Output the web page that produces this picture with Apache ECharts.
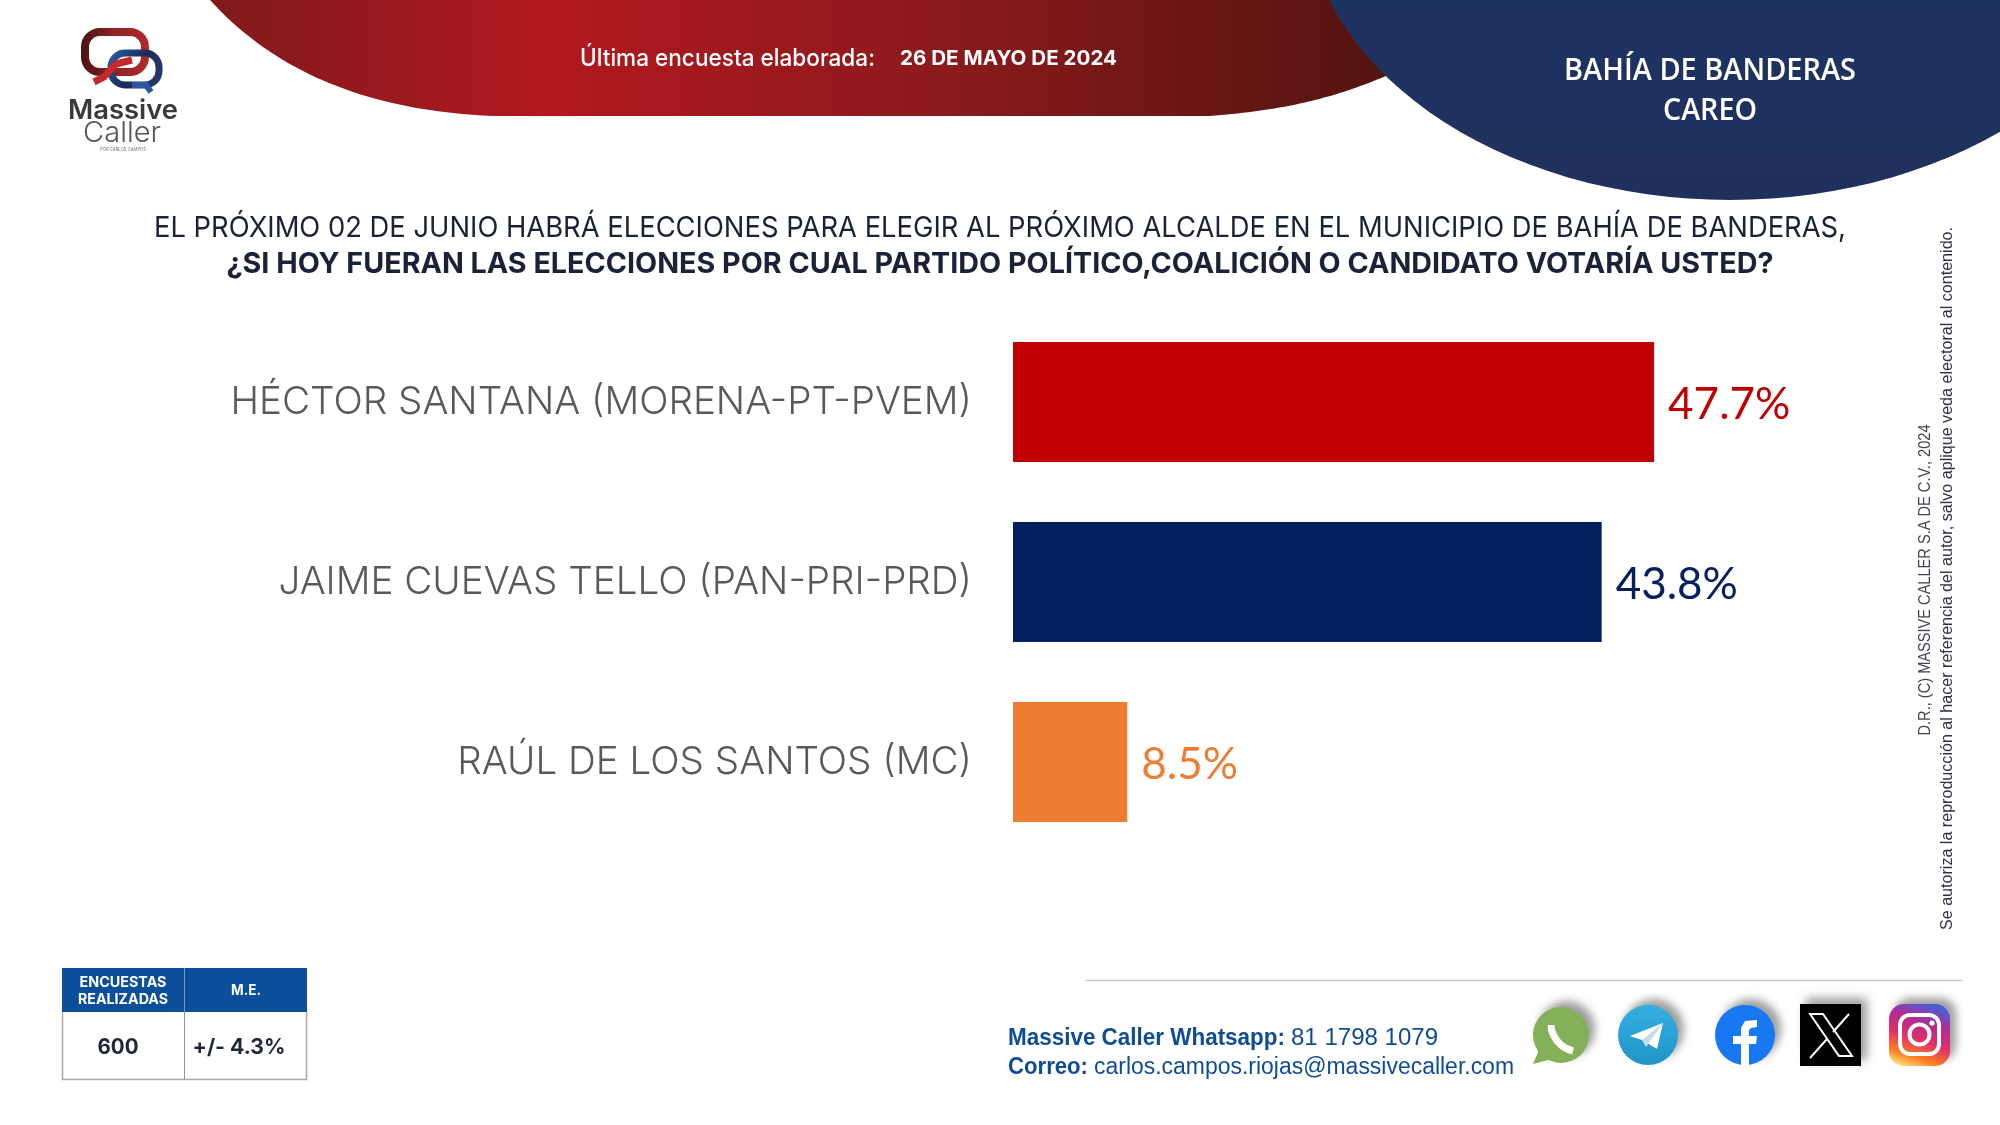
<!DOCTYPE html>
<html><head><meta charset="utf-8">
<style>html,body{margin:0;padding:0;background:#fff}#c{width:2000px;height:1125px}</style>
<script src="https://cdn.jsdelivr.net/npm/echarts@6/dist/echarts.min.js"></script>
</head><body><div id="c"></div>
<script>
const categories = ['HÉCTOR SANTANA (MORENA-PT-PVEM)', 'JAIME CUEVAS TELLO (PAN-PRI-PRD)', 'RAÚL DE LOS SANTOS (MC)'];
const values = [47.7, 43.8, 8.5];
const barColors = ['#C00000', '#002060', '#ED7D31'];
const titleLine1 = 'EL PRÓXIMO 02 DE JUNIO HABRÁ ELECCIONES PARA ELEGIR AL PRÓXIMO ALCALDE EN EL MUNICIPIO DE BAHÍA DE BANDERAS,';
const titleLine2 = '¿SI HOY FUERAN LAS ELECCIONES POR CUAL PARTIDO POLÍTICO,COALICIÓN O CANDIDATO VOTARÍA USTED?';

const chart = echarts.init(document.getElementById('c'), null, {renderer:'canvas', width:2000, height:1125});
const mctx = document.createElement('canvas').getContext('2d');
function T(text, x, y, size, o) {
  o = o || {};
  const font = (o.weight||400)+' '+size+'px "'+(o.family||'Inter')+'"';
  mctx.font = font;
  const sx = o.w ? o.w / mctx.measureText(text).width : 1;
  return {type:'text', x, y:y+1.5, scaleX:sx, rotation:o.rot||0, z:o.z||20,
    style:{text, fill:o.color||'#000', font, textAlign:o.align||'left', textVerticalAlign:'middle'}};
}
function bez(p0,p1,p2,p3){const r=[];for(let i=0;i<=40;i++){const t=i/40,u=1-t;
  r.push([u*u*u*p0[0]+3*u*u*t*p1[0]+3*u*t*t*p2[0]+t*t*t*p3[0],u*u*u*p0[1]+3*u*u*t*p1[1]+3*u*t*t*p2[1]+t*t*t*p3[1]]);}return r;}
const redPts = [].concat(
  bez([210,0],[275,72],[370,112],[497,116]),
  bez([1210,116],[1285,110],[1345,98],[1420,60]),
  [[1420,0]]);
const shadow = {shadowBlur:9, shadowColor:'rgba(0,0,0,0.38)', shadowOffsetX:6, shadowOffsetY:-6};
const grad = (x,y,x2,y2,stops)=>({type:'linear',x,y,x2,y2,colorStops:stops.map((c,i)=>({offset:c[0],color:c[1]}))});
const gfx = [
  {type:'polygon', z:1, shape:{points:redPts}, style:{fill:grad(0,0,1,0,[[0,'#7f1a1c'],[0.28,'#b2181f'],[0.6,'#8c1a1c'],[1,'#4f140e']])}},
  {type:'circle', z:2, x:1730, y:-100, scaleX:425/300, shape:{cx:0,cy:0,r:300}, style:{fill:grad(0,0,0,1,[[0.3,'#1b3768'],[1,'#20305c']])}},
  // logo
  {type:'rect', z:3, shape:{x:85,y:32,width:60,height:40,r:15}, style:{fill:'none', lineWidth:8, stroke:grad(0,0,1,0,[[0,'#4a1512'],[0.5,'#8f2323'],[1,'#b22a2a']])}},
  {type:'rect', z:4, shape:{x:111,y:53,width:48,height:32,r:14}, style:{fill:'none', lineWidth:7, stroke:grad(0,0,1,1,[[0,'#2d62ad'],[0.5,'#1d2c58'],[1,'#273a73']])}},
  {type:'polyline', z:5, shape:{points:[[94,82],[104,77],[116,64],[132,60]]}, style:{fill:'none', lineWidth:7, stroke:'#c5292c'}},
  {type:'polyline', z:5, shape:{points:[[132,85],[146,85],[151,92]]}, style:{fill:'none', lineWidth:6, stroke:'#2a56a4'}},
  T('Massive', 68, 109, 27, {weight:600, color:'#3a3a3a', w:110}),
  T('Caller', 83, 132, 28, {weight:300, color:'#555', w:78}),
  T('POR CARLOS CAMPOS', 100, 148, 5, {color:'#777', w:46}),
  // header text
  T('Última encuesta elaborada:', 580, 57, 24, {weight:500, color:'#fff', w:295}),
  T('26 DE MAYO DE 2024', 900, 57, 20, {weight:700, color:'#fff', w:217}),
  T('BAHÍA DE BANDERAS', 1710, 70, 30, {family:'Open Sans', weight:600, color:'#fff', align:'center', w:292}),
  T('CAREO', 1710, 110, 30, {family:'Open Sans', weight:600, color:'#fff', align:'center', w:94}),
  // title
  T(titleLine1, 1000, 227, 29, {weight:400, color:'#1a2238', align:'center', w:1692}),
  T(titleLine2, 1000, 263, 29, {weight:700, color:'#1a2238', align:'center', w:1547}),
  // rotated notes
  T('D.R., (C) MASSIVE CALLER S.A DE C.V., 2024', 1926, 578.5, 16, {family:'Liberation Sans', color:'#3f4454', align:'center', rot:Math.PI/2, w:311}),
  T('Se autoriza la reproducción al hacer referencia del autor, salvo aplique veda electoral al contenido.', 1948, 577, 16, {family:'Liberation Sans', color:'#2d3245', align:'center', rot:Math.PI/2, w:703}),
  // table
  {type:'rect', z:3, shape:{x:62,y:968,width:245,height:44}, style:{fill:'#0B4F9A'}},
  {type:'polyline', z:3, shape:{points:[[62.5,1012],[62.5,1079.5],[306.5,1079.5],[306.5,1012]]}, style:{fill:'none', stroke:'#a8a8a8', lineWidth:1.5}},
  {type:'line', z:4, shape:{x1:184.5,y1:968,x2:184.5,y2:1079}, style:{stroke:'#8a94a3', lineWidth:1}},
  T('ENCUESTAS', 123, 981, 14, {weight:700, color:'#fff', align:'center', w:87}),
  T('REALIZADAS', 123, 998, 14, {weight:700, color:'#fff', align:'center', w:90}),
  T('M.E.', 246, 989, 14, {weight:700, color:'#fff', align:'center', w:30}),
  T('600', 118, 1046, 21, {weight:700, color:'#1f2738', align:'center', w:41}),
  T('+/- 4.3%', 239, 1046, 21, {weight:700, color:'#1f2738', align:'center', w:93}),
  // footer
  {type:'line', z:3, shape:{x1:1086,y1:980.5,x2:1962,y2:980.5}, style:{stroke:'#c8c8c8', lineWidth:1.3}},
  T('Massive Caller Whatsapp:', 1008, 1037, 23, {family:'Liberation Sans', weight:700, color:'#0F4C96', w:277}),
  T('81 1798 1079', 1291, 1037, 23, {family:'Liberation Sans', color:'#0F4C96', w:147}),
  T('Correo:', 1008, 1066, 23, {family:'Liberation Sans', weight:700, color:'#0F4C96', w:80}),
  T('carlos.campos.riojas@massivecaller.com', 1094, 1066, 23, {family:'Liberation Sans', color:'#0F4C96', w:420}),
  // whatsapp
  {type:'circle', z:5, shape:{cx:1561,cy:1035,r:28}, style:Object.assign({fill:'#84B05A'},shadow)},
  {type:'polygon', z:6, shape:{points:[[1533,1064],[1541,1045],[1552,1059]]}, style:{fill:'#84B05A'}},
  {type:'polyline', z:7, shape:{smooth:0.5, points:[[1551,1025],[1553,1034],[1561,1045],[1573,1051]]}, style:{fill:'none', stroke:'#fff', lineWidth:7}},
  // telegram
  {type:'circle', z:5, shape:{cx:1648,cy:1035,r:30}, style:Object.assign({fill:grad(0,0,0,1,[[0,'#37aee2'],[1,'#1e96c8']])},shadow)},
  {type:'polygon', z:6, shape:{points:[[1630,1036],[1663,1023],[1657,1049],[1642,1040]]}, style:{fill:'#fff'}},
  {type:'polygon', z:7, shape:{points:[[1642,1040],[1663,1023],[1646,1047]]}, style:{fill:'#c8daea'}},
  // facebook
  {type:'circle', z:5, shape:{cx:1745,cy:1035,r:30}, style:Object.assign({fill:'#1877F2'},shadow)},
  {type:'polygon', z:6, shape:{points:[[1741,1065],[1741,1044],[1733,1044],[1733,1036],[1741,1036],[1741,1028],[1745,1021],[1757,1020],[1757,1027],[1751,1028],[1749,1030],[1749,1036],[1757,1036],[1756,1044],[1749,1044],[1749,1065]]}, style:{fill:'#fff'}},
  // X
  {type:'rect', z:5, shape:{x:1800,y:1004,width:61,height:62}, style:Object.assign({fill:'#000'},shadow)},
  {type:'polygon', z:6, shape:{points:[[1810,1014],[1823,1014],[1852,1056],[1839,1056]]}, style:{fill:'none', stroke:'#fff', lineWidth:2}},
  {type:'line', z:6, shape:{x1:1849,y1:1014,x2:1833,y2:1032}, style:{stroke:'#fff', lineWidth:2}},
  {type:'line', z:6, shape:{x1:1827,y1:1039,x2:1810,y2:1058}, style:{stroke:'#fff', lineWidth:2}},
  // instagram
  {type:'rect', z:5, shape:{x:1889,y:1004,width:61,height:62,r:15}, style:Object.assign({fill:grad(0.25,1,0.6,0,[[0,'#feda75'],[0.18,'#fa7e1e'],[0.45,'#e0306a'],[0.72,'#b52a92'],[1,'#4f5bd5']])},shadow)},
  {type:'rect', z:6, shape:{x:1900,y:1015,width:39,height:39,r:10}, style:{fill:'none', stroke:'#fff', lineWidth:4}},
  {type:'circle', z:6, shape:{cx:1919.5,cy:1034.5,r:10}, style:{fill:'none', stroke:'#fff', lineWidth:4}},
  {type:'circle', z:6, shape:{cx:1932,cy:1023,r:2.6}, style:{fill:'#fff'}}
];

chart.setOption({
  animation:false,
  backgroundColor:'#fff',
  grid:{left:1013, top:312, width:806.4, height:540, containLabel:false},
  xAxis:{type:'value', min:0, max:60, show:false},
  yAxis:{type:'category', inverse:true, data:categories,
    axisLine:{show:false}, axisTick:{show:false}, splitLine:{show:false},
    axisLabel:{margin:41, fontFamily:'Inter', fontWeight:300, fontSize:38.6, color:'#595959'}},
  series:[{type:'bar', barCategoryGap:'33.3%',
    data:values.map((v,i)=>({value:v, itemStyle:{color:barColors[i]},
      label:{color:barColors[i]}})),
    label:{show:true, position:'right', distance:14, offset:[0,3], fontFamily:'Lato', fontSize:44, formatter:p=>p.value.toFixed(1)+'%'}}],
  graphic:{elements:gfx}
});
</script></body></html>
